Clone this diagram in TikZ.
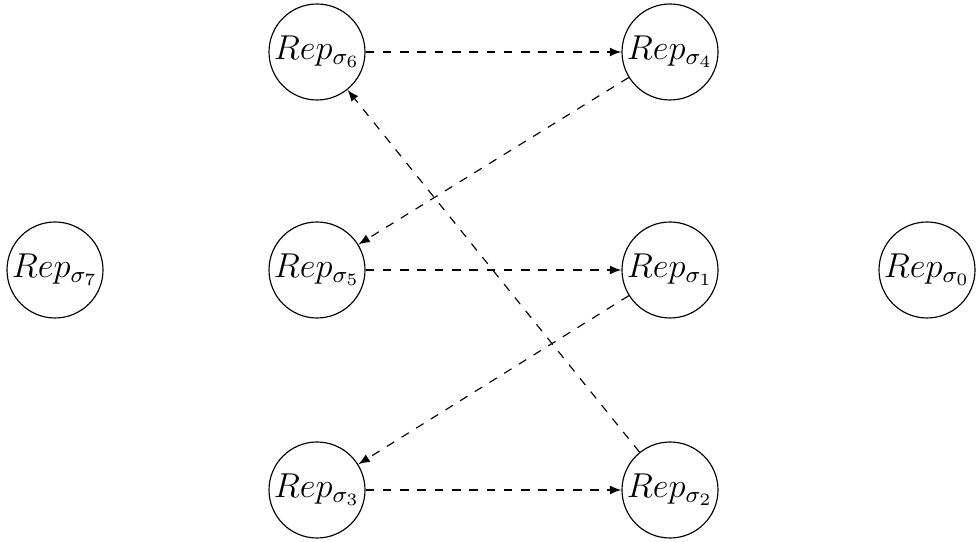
\documentclass[tikz,border=0pt]{standalone}
\usetikzlibrary{arrows}
\begin{document}
\begin{tikzpicture}[x=0.0122cm,y=-0.0122cm,
  rep/.style={draw,circle,minimum size=96*0.0122cm,inner sep=0pt,
    font=\fontsize{11.5}{14}\selectfont},
  link/.style={dashed,-latex}]
\useasboundingbox (0,0) rectangle (980,542);
% replica nodes
\node[rep] (r7) at (55,270) {$Rep_{\sigma_7}$};
\node[rep] (r6) at (317,52) {$Rep_{\sigma_6}$};
\node[rep] (r4) at (670,52) {$Rep_{\sigma_4}$};
\node[rep] (r5) at (317,270) {$Rep_{\sigma_5}$};
\node[rep] (r1) at (670,270) {$Rep_{\sigma_1}$};
\node[rep] (r0) at (927,270) {$Rep_{\sigma_0}$};
\node[rep] (r3) at (317,490) {$Rep_{\sigma_3}$};
\node[rep] (r2) at (670,490) {$Rep_{\sigma_2}$};
% transfer chain
\draw[link] (r6) -- (r4);
\draw[link] (r4) -- (r5);
\draw[link] (r5) -- (r1);
\draw[link] (r1) -- (r3);
\draw[link] (r3) -- (r2);
\draw[link] (r2) -- (r6);
\end{tikzpicture}
\end{document}
